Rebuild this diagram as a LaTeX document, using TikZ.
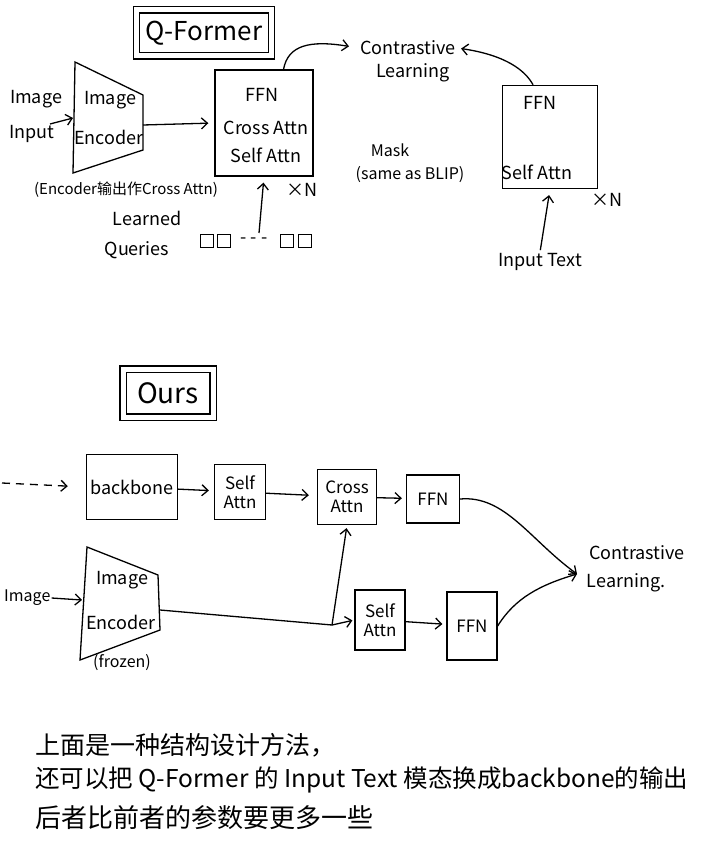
\documentclass[tikz,border=0pt]{standalone}
\usepackage{fontspec}
\setmainfont{Noto Sans CJK SC}
\newfontfamily\cjk{Noto Sans CJK SC}
\usetikzlibrary{arrows.meta}
\begin{document}
\begin{tikzpicture}[x=1pt,y=-1pt,
  box/.style={draw, line width=1.3pt, inner sep=1pt, align=center, font=\fontsize{17}{19}\selectfont},
  lbl/.style={inner sep=1pt, align=center, font=\fontsize{18}{20}\selectfont},
  small/.style={inner sep=1pt, align=center, font=\fontsize{15}{17}\selectfont},
  title/.style={draw, double, double distance=5pt, line width=1.2pt, inner sep=2pt},
  arr/.style={-{Straight Barb[length=6pt,width=11pt]}, line width=1.3pt},
  ln/.style={line width=1.3pt},
  sq/.style={draw, line width=1.3pt, minimum size=13pt, inner sep=0pt}]
\useasboundingbox[fill=white] (0,0) rectangle (705,850);

% ---------------- Q-Former part ----------------
\node[title, minimum width=135, minimum height=46, font=\fontsize{26}{28}\selectfont] (qtitle) at (204,33) {Q-Former};

\node[lbl] (imgin1) at (36,99) {Image};
\node[lbl] (imgin2) at (32,134) {Input};
\coordinate (a1) at (50,124);
\draw[ln] (75,62) -- (143,95) -- (143,150) -- (73,173) -- cycle;
\coordinate (e1in) at (73,118);
\coordinate (e1out) at (143,125);
\node[lbl] (e1a) at (110,100) {Image};
\node[lbl] (e1b) at (109,137) {Encoder};
\draw[arr] (a1) -- (e1in);

\node[box, minimum width=98, minimum height=106] (qbox) at (264,123) {};
\node[lbl] (qffn) at (262,95) {FFN};
\node[lbl] (qca) at (266,128) {Cross Attn};
\node[lbl] (qsa) at (266,155) {Self Attn};
\node[lbl] (qxn) at (302,190) {×N};
\draw[arr, shorten >=6pt] (e1out) -- (qbox.west);

\node[small] (encnote) at (126,190) {(Encoder输出作Cross Attn)};
\node[lbl] (learned) at (147,218) {Learned};
\node[lbl] (queries) at (137,250) {Queries};
\node[sq] (s1) at (207,241) {};
\node[sq] (s2) at (224,241) {};
\node[lbl] (dots) at (254,241) {- - -};
\node[sq] (s3) at (287,241) {};
\node[sq] (s4) at (305,241) {};
\coordinate (qin) at (259,233);
\draw[arr, shorten >=6pt] (qin) -- (qbox.south);

\node[lbl] (cl1a) at (408,48) {Contrastive};
\node[lbl] (cl1b) at (413,73) {Learning};
\draw[arr, shorten >=10pt] (qbox.70) .. controls (288,45) and (310,40) .. (cl1a.west);

\node[lbl, font=\fontsize{16}{18}\selectfont] (mask) at (390,150) {Mask};
\node[lbl, font=\fontsize{16}{18}\selectfont] (same) at (410,175) {(same as BLIP)};

\node[box, minimum width=95, minimum height=103] (rbox) at (550,137) {};
\node[lbl] (rffn) at (540,103) {FFN};
\node[lbl] (rsa) at (537,172) {Self Attn};
\node[lbl] (rxn) at (607,200) {×N};
\draw[arr, shorten >=4pt] (rbox.108) .. controls (525,70) and (505,55) .. (cl1a.east);

\node[lbl] (itext) at (540,262) {Input Text};
\draw[arr, shorten >=6pt, shorten <=2pt] (itext.north) -- (rbox.south);

% ---------------- Ours part ----------------
\node[title, minimum width=90, minimum height=48, font=\fontsize{28}{30}\selectfont] (otitle) at (168,393) {Ours};

\coordinate (din) at (2,483);
\node[box, font=\fontsize{18}{20}\selectfont, minimum width=91, minimum height=65] (bb) at (132,487) {backbone};
\node[box, minimum width=51, minimum height=55] (sa1) at (240,492) {Self\\Attn};
\node[box, minimum width=59, minimum height=55] (ca) at (347,497) {Cross\\Attn};
\node[box, minimum width=53, minimum height=48] (ffn1) at (433,499) {FFN};
\draw[arr, dashed, dash pattern=on 8pt off 6pt, shorten >=18pt] (din) -- (bb.west);
\draw[arr, shorten >=5pt] (bb) -- (sa1);
\draw[arr, shorten >=8pt] (sa1) -- (ca);
\draw[arr, shorten >=4pt] (ca) -- (ffn1);

\node[lbl] (cl2a) at (637,553) {Contrastive};
\node[lbl] (cl2b) at (626,583) {Learning.};
\coordinate (clp) at (577,574);

\draw[ln] (87,547) -- (158,575) -- (160,630) -- (80,660) -- cycle;
\node[lbl] (e2a) at (122,580) {Image};
\node[lbl] (e2b) at (121,622) {Encoder};
\node[lbl, font=\fontsize{16}{18}\selectfont] (frozen) at (122,663) {(frozen)};
\coordinate (e2in) at (82,600);
\coordinate (e2out) at (160,610);
\node[lbl, anchor=west, font=\fontsize{16}{18}\selectfont] (img2) at (3,598) {Image};
\draw[arr] (img2.east) -- (e2in);

\node[box, minimum width=50, minimum height=60] (sa2) at (380,620) {Self\\Attn};
\node[box, minimum width=50, minimum height=68] (ffn2) at (472,626) {FFN};
\coordinate (j) at (332,625);
\draw[ln] (e2out) -- (j);
\draw[arr, shorten >=2pt] (j) -- (sa2.west);
\draw[arr, shorten >=3pt] (j) -- (ca.south);
\draw[arr, shorten >=4pt] (sa2) -- (ffn2);

\draw[arr] (ffn1.east) .. controls (505,495) and (530,540) .. (clp);
\draw[arr] (ffn2.east) .. controls (515,598) and (540,585) .. (clp);

% ---------------- Notes ----------------
\node[inner sep=0pt, anchor=west, font=\fontsize{25}{27}\selectfont] (n1) at (35,745) {上面是一种结构设计方法，};
\node[inner sep=0pt, anchor=west, font=\fontsize{24.5}{26}\selectfont] (n2) at (35,780) {还可以把 Q-Former 的 Input Text 模态换成backbone的输出};
\node[inner sep=0pt, anchor=west, font=\fontsize{26}{28}\selectfont] (n3) at (35,818) {后者比前者的参数要更多一些};
\end{tikzpicture}
\end{document}
